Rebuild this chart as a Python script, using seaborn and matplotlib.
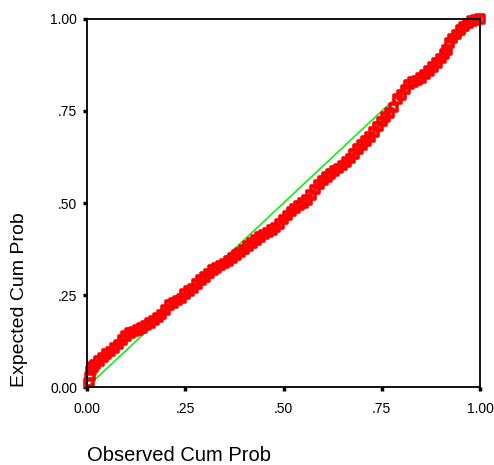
import matplotlib
matplotlib.use("Agg")
import matplotlib.pyplot as plt
import seaborn as sns
import pandas as pd

# Observed cumulative probability (x) and expected cumulative probability (y)
observed = [0.005, 0.007, 0.010, 0.015, 0.020, 0.030, 0.040, 0.050, 0.060, 0.070,
            0.080, 0.090, 0.100, 0.110, 0.120, 0.130, 0.140, 0.150, 0.160, 0.170,
            0.180, 0.190, 0.200, 0.210, 0.220, 0.230, 0.240, 0.250, 0.260, 0.270,
            0.280, 0.290, 0.300, 0.310, 0.320, 0.330, 0.340, 0.350, 0.360, 0.370,
            0.380, 0.390, 0.400, 0.410, 0.420, 0.430, 0.440, 0.450, 0.460, 0.470,
            0.480, 0.490, 0.500, 0.510, 0.520, 0.530, 0.540, 0.550, 0.560, 0.570,
            0.580, 0.590, 0.600, 0.610, 0.620, 0.630, 0.640, 0.650, 0.660, 0.670,
            0.680, 0.690, 0.700, 0.710, 0.720, 0.730, 0.740, 0.750, 0.760, 0.770,
            0.780, 0.790, 0.800, 0.810, 0.820, 0.830, 0.840, 0.850, 0.860, 0.870,
            0.880, 0.890, 0.900, 0.910, 0.916, 0.922, 0.930, 0.940, 0.950, 0.960,
            0.970, 0.980, 0.990, 1.000]
expected = [0.012, 0.028, 0.045, 0.055, 0.061, 0.070, 0.080, 0.089, 0.097, 0.106,
            0.116, 0.127, 0.139, 0.146, 0.151, 0.155, 0.160, 0.167, 0.174, 0.181,
            0.189, 0.197, 0.210, 0.223, 0.229, 0.235, 0.241, 0.252, 0.261, 0.268,
            0.280, 0.291, 0.299, 0.308, 0.318, 0.324, 0.330, 0.336, 0.343, 0.350,
            0.358, 0.366, 0.374, 0.383, 0.391, 0.399, 0.408, 0.414, 0.420, 0.427,
            0.433, 0.443, 0.455, 0.466, 0.477, 0.485, 0.493, 0.500, 0.508, 0.522,
            0.537, 0.550, 0.561, 0.570, 0.579, 0.587, 0.594, 0.602, 0.611, 0.621,
            0.633, 0.646, 0.657, 0.668, 0.680, 0.693, 0.708, 0.722, 0.734, 0.745,
            0.760, 0.783, 0.794, 0.808, 0.822, 0.828, 0.833, 0.840, 0.849, 0.858,
            0.869, 0.881, 0.893, 0.905, 0.916, 0.935, 0.947, 0.958, 0.970, 0.980,
            0.988, 0.994, 0.998, 1.000]

ref_line = [0.0, 1.0]
tick_values = [0.0, 0.25, 0.50, 0.75, 1.0]
tick_labels = ["0.00", ".25", ".50", ".75", "1.00"]

df = pd.DataFrame({"Observed Cum Prob": observed, "Expected Cum Prob": expected})

sns.set_style("white")
plt.rcParams["font.family"] = ["Liberation Sans", "DejaVu Sans"]

fig = plt.figure(figsize=(4.94, 4.65), dpi=100)
ax = fig.add_axes([87 / 494, 1 - 387 / 465, 393 / 494, 368 / 465])

ax.plot(ref_line, ref_line, color="#00f000", lw=1.1, zorder=1)
sns.scatterplot(data=df, x="Observed Cum Prob", y="Expected Cum Prob", ax=ax,
                marker="s", s=30, facecolor="none", edgecolor="#ff0000",
                linewidth=2.6, zorder=2, clip_on=False, legend=False)

ax.set_xlim(0, 1)
ax.set_ylim(0, 1)
ax.set_xticks(tick_values)
ax.set_xticklabels(tick_labels)
ax.set_yticks(tick_values)
ax.set_yticklabels(tick_labels)

for sp in ax.spines.values():
    sp.set_visible(True)
    sp.set_color("black")
    sp.set_linewidth(1.3)

ax.tick_params(axis="both", which="major", bottom=True, left=True,
               direction="out", length=3, width=2.5, color="black",
               labelsize=10, labelcolor="black")
ax.tick_params(axis="x", pad=8)
ax.tick_params(axis="y", pad=4)

ax.set_xlabel("Observed Cum Prob", fontsize=14.5, loc="left", color="black")
ax.set_ylabel("Expected Cum Prob", fontsize=14, loc="bottom", color="black")
ax.xaxis.set_label_coords(0.0, (387 - 455) / 368)
ax.xaxis.label.set_va("center")
ax.yaxis.set_label_coords((20 - 87) / 393, 0.0)
ax.yaxis.label.set_va("center")

fig.savefig("out.png", dpi=100)
